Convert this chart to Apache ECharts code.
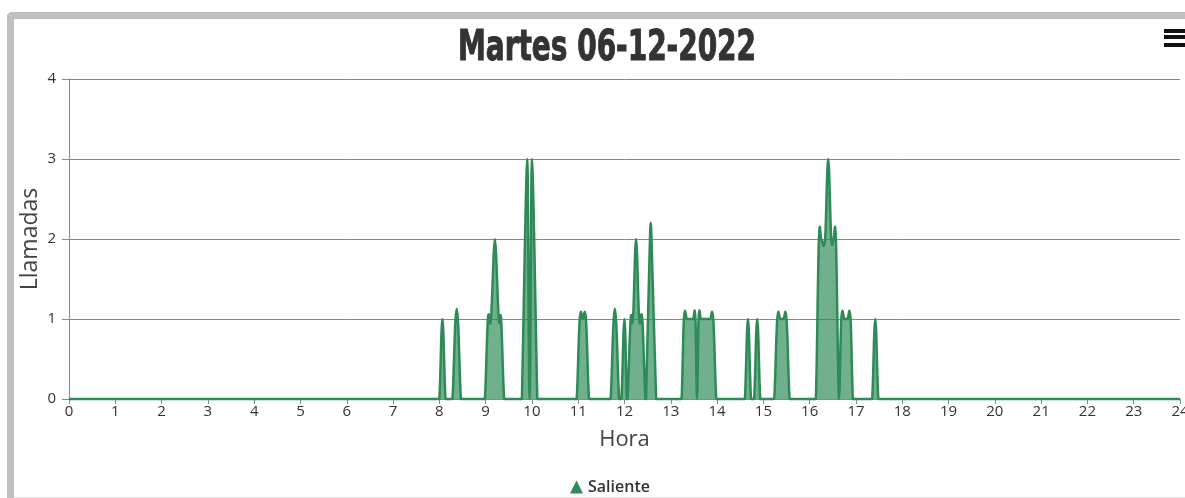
<!DOCTYPE html>
<html>
<head>
<meta charset="utf-8">
<script src="https://cdn.jsdelivr.net/npm/echarts@6/dist/echarts.min.js"></script>
<style>
  html, body { margin: 0; padding: 0; background: #fff; overflow: hidden; }
  #frame {
    position: absolute; left: 7px; top: 12px; width: 1300px; height: 484px;
    border-left: 7px solid #c0c0c0; border-top: 7px solid #c0c0c0;
    border-top-left-radius: 5px;
  }
  #base { position: absolute; left: 14px; top: 497px; width: 1200px; height: 1px; background: #e4e4e4; }
  #chart { position: absolute; left: 0; top: 0; width: 1185px; height: 498px; }
</style>
</head>
<body>
<div id="frame"></div>
<div id="base"></div>
<div id="chart"></div>
<script>
// Outgoing calls through the day: minute of day and number of calls at that moment
const horaMin = [
  0,
  480, 484, 488,
  497, 501, 504, 508,
  539, 543, 547, 552, 557, 560, 564,
  587, 594, 597, 600, 607,
  658, 662, 666, 670, 674,
  702, 706, 709, 713,
  716, 720, 723,
  724, 728, 731, 735, 739, 743, 747,
  748, 753, 755, 761,
  794, 797, 801, 805, 809, 812, 814,
  816, 819, 823, 827, 831, 835, 839,
  876, 880, 884,
  888, 892, 896,
  914, 918, 922, 926, 930, 934,
  968, 972, 975, 980, 984, 988, 991, 994, 998,
  1001, 1005, 1009, 1013, 1016,
  1041, 1045, 1049,
  1440
];
const llamadas = [
  0,
  0, 1, 0,
  0, 1, 1, 0,
  0, 1, 1, 2, 1, 1, 0,
  0, 3, 0, 3, 0,
  0, 1, 1, 1, 0,
  0, 1, 1, 0,
  0, 1, 0,
  0, 1, 1, 2, 1, 1, 0,
  0, 2, 2, 0,
  0, 1, 1, 1, 1, 1, 0,
  1, 1, 1, 1, 1, 1, 0,
  0, 1, 0,
  0, 1, 0,
  0, 1, 1, 1, 1, 0,
  0, 2, 2, 2, 3, 2, 2, 2, 0,
  1, 1, 1, 1, 0,
  0, 1, 0,
  0
];
const titulo = 'Martes 06-12-2022';
const serieNombre = 'Saliente';
const ejeX = 'Hora';
const ejeY = 'Llamadas';

const verde = '#2e8b57';
const fuente = "'Open Sans', 'DejaVu Sans', sans-serif";

// Spline through the points (smoothing 1.5, control points kept on the
// tangent through each point). Tangents look at most `reach` pixels to each
// side, and no control point may drop below the zero line.
function splinePath(pts, baseY, reach) {
  const s = 1.5, den = s + 1;
  const conts = pts.map((p, i) => {
    if (i === 0 || i === pts.length - 1) return [p[0], p[1], p[0], p[1]];
    const lastX = Math.max(pts[i - 1][0], p[0] - reach), lastY = pts[i - 1][1];
    const nextX = Math.min(pts[i + 1][0], p[0] + reach), nextY = pts[i + 1][1];
    const lx = (s * p[0] + lastX) / den, rx = (s * p[0] + nextX) / den;
    let ly = (s * p[1] + lastY) / den, ry = (s * p[1] + nextY) / den;
    if (rx !== lx) {
      const c = ((ry - ly) * (rx - p[0])) / (rx - lx) + p[1] - ry;
      ly += c; ry += c;
    }
    return [lx, Math.min(ly, baseY), rx, Math.min(ry, baseY)];
  });
  let d = 'M' + pts[0][0] + ',' + pts[0][1];
  for (let i = 1; i < pts.length; i++) {
    const a = conts[i - 1], b = conts[i];
    d += ' C' + a[2] + ',' + a[3] + ' ' + b[0] + ',' + b[1] + ' ' + pts[i][0] + ',' + pts[i][1];
  }
  return d;
}

const chart = echarts.init(document.getElementById('chart'), null, { renderer: 'canvas' });

chart.setOption({
  animation: false,
  backgroundColor: 'transparent',
  legend: {
    left: 565,
    top: 474,
    icon: 'triangle',
    itemWidth: 13,
    itemHeight: 13,
    itemGap: 6,
    textStyle: { fontFamily: fuente, fontSize: 16, fontWeight: 600, color: '#333' },
    data: [serieNombre]
  },
  grid: { left: 69, right: 5, top: 79, bottom: 99, containLabel: false, outerBoundsMode: 'none' },
  xAxis: {
    type: 'value',
    min: 0,
    max: 1440,
    interval: 60,
    name: ejeX,
    nameLocation: 'middle',
    nameGap: 30,
    nameTextStyle: { fontFamily: fuente, fontSize: 22, color: '#444' },
    axisLine: { show: true, lineStyle: { color: '#888', width: 1 } },
    axisTick: { show: true, length: 5, lineStyle: { color: '#888' } },
    axisLabel: {
      margin: 5,
      fontFamily: fuente,
      fontSize: 15,
      color: '#333',
      hideOverlap: false,
      formatter: v => String(v / 60)
    },
    splitLine: { show: false }
  },
  yAxis: {
    type: 'value',
    min: 0,
    max: 4,
    interval: 1,
    name: ejeY,
    nameLocation: 'middle',
    nameGap: 27,
    nameMoveOverlap: false,
    nameTextStyle: { fontFamily: fuente, fontSize: 23, color: '#444' },
    axisLine: { show: true, lineStyle: { color: '#888', width: 1 } },
    axisTick: { show: true, length: 7, lineStyle: { color: '#888' } },
    axisLabel: { margin: 13, fontFamily: fuente, fontSize: 15, color: '#333' },
    splitLine: { show: true, lineStyle: { color: '#888', width: 1 } }
  },
  graphic: [
    {
      type: 'text',
      x: 607,
      y: 49,
      scaleX: 0.74,
      style: {
        text: titulo,
        fontFamily: "'DejaVu Sans Condensed', 'DejaVu Sans', sans-serif",
        fontWeight: 'bold',
        fontSize: 42,
        fill: '#333',
        stroke: '#333',
        lineWidth: 1,
        align: 'center',
        verticalAlign: 'middle'
      }
    },
    // export menu icon
    { type: 'rect', shape: { x: 1164, y: 29, width: 24, height: 4 }, style: { fill: '#111' } },
    { type: 'rect', shape: { x: 1164, y: 35, width: 24, height: 4 }, style: { fill: '#111' } },
    { type: 'rect', shape: { x: 1164, y: 43, width: 24, height: 4 }, style: { fill: '#111' } }
  ],
  series: [{
    name: serieNombre,
    type: 'custom',
    coordinateSystem: 'cartesian2d',
    encode: { x: 0, y: 1 },
    data: horaMin.map((m, i) => [m, llamadas[i]]),
    itemStyle: { color: verde },
    renderItem: (params, api) => {
      if (params.dataIndex !== 0) return null;
      const pts = horaMin.map((m, i) => api.coord([m, llamadas[i]]));
      const origin = api.coord([0, 0]);
      const reach = api.coord([4, 0])[0] - origin[0];
      const baseY = origin[1];
      const line = splinePath(pts, baseY, reach);
      const last = pts[pts.length - 1];
      const area = line + ' L' + last[0] + ',' + baseY + ' L' + pts[0][0] + ',' + baseY + ' Z';
      return {
        type: 'group',
        children: [
          { type: 'path', shape: { pathData: area }, style: { fill: 'rgba(46,139,87,0.68)', stroke: 'none' } },
          { type: 'path', shape: { pathData: line }, style: { fill: 'none', stroke: verde, lineWidth: 2.5, lineJoin: 'round' } }
        ]
      };
    }
  }]
});
</script>
</body>
</html>
